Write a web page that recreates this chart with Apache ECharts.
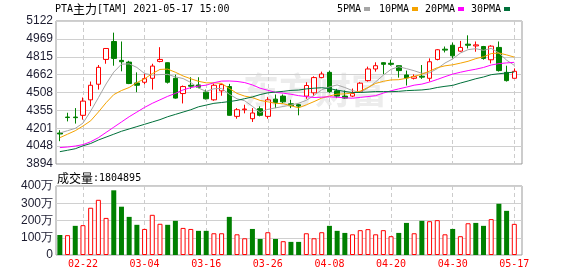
<!DOCTYPE html>
<html><head><meta charset="utf-8">
<script src="https://cdn.jsdelivr.net/npm/echarts@6/dist/echarts.min.js"></script>
<style>html,body{margin:0;padding:0;background:#fff}#c{width:578px;height:276px}</style>
</head><body><div id="c"></div>
<script>
const dates = ['02-10','02-18','02-19','02-22','02-23','02-24','02-25','02-26','03-01','03-02',
'03-03','03-04','03-05','03-08','03-09','03-10','03-11','03-12','03-15','03-16',
'03-17','03-18','03-19','03-22','03-23','03-24','03-25','03-26','03-29','03-30',
'03-31','04-01','04-02','04-06','04-07','04-08','04-09','04-12','04-13','04-14',
'04-15','04-16','04-19','04-20','04-21','04-22','04-23','04-26','04-27','04-28',
'04-29','04-30','05-06','05-07','05-10','05-11','05-12','05-13','05-14','05-17'];
const opens  = [4160,4297,4297,4312,4445,4579,4792,4946,4784,4769,4590,4596,4630,4775,4764,4630,4499,4570,4573,4511,
4445,4522,4559,4303,4360,4283,4369,4303,4451,4477,4411,4403,4477,4505,4636,4681,4522,4477,4477,4514,
4610,4710,4764,4759,4738,4659,4630,4648,4630,4792,4880,4914,4863,4923,4908,4903,4789,4895,4681,4630];
const closes = [4152,4293,4292,4434,4570,4724,4886,4801,4772,4585,4570,4627,4735,4792,4596,4460,4559,4562,4553,4454,
4570,4576,4312,4360,4366,4332,4312,4445,4423,4428,4394,4391,4568,4636,4667,4516,4477,4460,4499,4588,
4710,4738,4750,4750,4696,4633,4644,4640,4772,4875,4872,4823,4895,4914,4917,4801,4906,4696,4610,4690];
const lows   = [4090,4260,4241,4275,4391,4533,4755,4738,4690,4580,4511,4579,4533,4767,4585,4455,4414,4539,4545,4448,
4437,4480,4310,4283,4329,4255,4303,4283,4374,4417,4374,4312,4454,4477,4630,4505,4460,4454,4468,4510,
4602,4687,4665,4738,4636,4568,4620,4625,4602,4784,4852,4801,4858,4886,4858,4790,4758,4688,4602,4630];
const highs  = [4184,4334,4374,4465,4602,4744,4890,5022,4946,4780,4681,4667,4755,4897,4766,4661,4568,4639,4639,4533,
4585,4585,4582,4374,4403,4374,4389,4468,4491,4491,4445,4411,4596,4647,4687,4695,4539,4525,4542,4597,
4730,4767,4767,4789,4740,4696,4664,4744,4801,4880,4903,4937,4951,4999,4946,4908,4914,4946,4738,4715];
const ma5  = [4160,4180,4200,4245,4348,4463,4581,4683,4751,4754,4723,4671,4658,4662,4664,4642,4628,4594,4546,4518,
4540,4543,4493,4454,4437,4389,4336,4363,4376,4388,4400,4416,4441,4483,4531,4556,4573,4551,4524,4508,
4547,4599,4657,4707,4729,4713,4695,4673,4677,4713,4761,4796,4847,4876,4884,4870,4887,4847,4786,4741];
const ma10 = [4120,4150,4180,4220,4265,4340,4420,4490,4525,4551,4593,4626,4670,4706,4709,4682,4650,4626,4604,4591,
4591,4586,4543,4500,4477,4464,4440,4428,4415,4412,4395,4376,4402,4430,4460,4478,4494,4496,4504,4520,
4551,4586,4604,4616,4618,4630,4647,4665,4692,4721,4737,4746,4760,4776,4799,4815,4842,4847,4831,4812];
const ma20 = [4035,4040,4048,4060,4085,4120,4165,4210,4255,4300,4340,4380,4415,4445,4475,4500,4530,4550,4563,4571,
4592,4606,4607,4603,4593,4573,4545,4527,4509,4502,4493,4481,4473,4465,4468,4471,4467,4462,4459,4466,
4473,4481,4503,4523,4539,4554,4571,4580,4598,4620,4644,4666,4682,4696,4708,4723,4744,4756,4762,4767];
const ma30 = [4000,4012,4025,4050,4070,4100,4125,4150,4175,4195,4215,4235,4255,4275,4300,4320,4340,4360,4385,4400,
4415,4422,4430,4440,4455,4470,4490,4505,4512,4518,4526,4529,4539,4545,4549,4542,4528,4517,4508,4508,
4512,4516,4516,4515,4518,4524,4527,4530,4537,4551,4561,4569,4589,4607,4626,4641,4661,4669,4676,4684];
const volumes = [116,115,169,173,274,320,215,375,280,221,175,151,233,181,175,198,157,151,140,140,
126,126,221,120,97,151,93,132,93,80,76,76,126,97,132,169,140,128,120,144,
150,120,144,109,128,186,126,198,196,202,120,151,109,184,186,169,208,297,256,180.4895];
const volUp = [0,1,0,1,1,1,1,0,0,0,0,1,1,1,0,0,1,1,0,0,1,1,0,1,1,0,0,1,0,1,
0,0,1,1,1,0,0,0,1,1,1,1,1,1,0,0,1,0,1,1,1,0,1,1,0,0,1,0,0,1];
const dateTickIdx = [3,11,19,27,35,43,51,59];
const priceTicks = [3894,4047.5,4201,4354.5,4508,4661.5,4815,4968.5,5122];
const priceTickLabels = ['3894','4048','4201','4355','4508','4662','4815','4969','5122'];
const volTickLabels = {0:'0',100:'100万',200:'200万',300:'300万',400:'400万'};
const maNames = ['5PMA','10PMA','20PMA','30PMA'];
const maColors = ['#a6a6a6','#f5a300','#ff00ff','#00703a'];

const mono = '"DejaVu Sans Mono", monospace';
const cjk = '"Noto Sans CJK SC", sans-serif';
const sans = '"Liberation Sans", Arial, sans-serif';
const RED = '#ff0000', GREEN = '#008000';

const candleData = dates.map((d, i) => [i, opens[i], closes[i], lows[i], highs[i]]);
const volData = dates.map((d, i) => ({
  value: [i, volumes[i]],
  itemStyle: volUp[i] ? {color: '#ffffff', borderColor: RED, borderWidth: 1} : {color: GREEN, borderColor: GREEN, borderWidth: 0}
}));
const maSeries = [ma5, ma10, ma20, ma30].map((arr, k) => ({
  name: maNames[k], type: 'line', xAxisIndex: 0, yAxisIndex: 0, z: 3,
  data: arr.map((v, i) => [i, v]), showSymbol: false, symbol: 'none',
  lineStyle: {color: maColors[k], width: 1}, itemStyle: {color: maColors[k]}
}));

function xAxisCfg(gi, showLabel) {
  return {
    type: 'value', gridIndex: gi, min: -0.5, max: 60,
    axisLine: {show: false},
    axisTick: {show: false, customValues: dateTickIdx},
    axisLabel: {show: showLabel, customValues: dateTickIdx, formatter: v => dates[v],
      color: RED, fontFamily: mono, fontSize: 10, margin: 4},
    splitLine: {show: true, lineStyle: {color: '#cccccc', width: 1, type: [4, 3]}}
  };
}

const legendEls = [];
const legendX = [337, 379, 425, 471];
const swatchX = [364, 412, 458, 504];
maNames.forEach((n, k) => {
  legendEls.push({type: 'text', x: legendX[k], y: 9, style: {text: n, font: '10px ' + mono, fill: '#000', verticalAlign: 'middle'}});
  legendEls.push({type: 'rect', shape: {x: swatchX[k], y: 7, width: 6, height: 4}, style: {fill: maColors[k]}});
});

const option = {
  animation: false,
  backgroundColor: '#fff',
  grid: [
    {left: 56, top: 21, width: 466, height: 143, show: true, borderColor: '#999', borderWidth: 1},
    {left: 56, top: 186, width: 466, height: 69, show: true, borderColor: '#999', borderWidth: 1}
  ],
  xAxis: [xAxisCfg(0, false), xAxisCfg(1, true)],
  yAxis: [
    {type: 'value', gridIndex: 0, min: 3894, max: 5122,
      axisLine: {show: false}, axisTick: {show: false, customValues: priceTicks},
      axisLabel: {customValues: priceTicks, formatter: v => priceTickLabels[priceTicks.indexOf(v)],
        color: '#1c1c30', fontFamily: sans, fontSize: 12, margin: 3},
      splitLine: {show: true, lineStyle: {color: '#d0d0d0', width: 1}}},
    {type: 'value', gridIndex: 1, min: 0, max: 400, interval: 100,
      axisLine: {show: false}, axisTick: {show: false},
      axisLabel: {formatter: v => volTickLabels[v], color: '#1c1c30', fontFamily: sans, fontSize: 12, margin: 3},
      splitLine: {show: true, lineStyle: {color: '#d0d0d0', width: 1}}}
  ],
  graphic: {elements: [
    {type: 'text', x: 243, y: 90, z: 0, silent: true,
      style: {text: '东方财富', font: 'bold 36px ' + cjk, fill: '#ececec', verticalAlign: 'middle'}},
    {type: 'text', x: 55, y: 9,
      style: {text: '{a|PTA}{c|主力}{a|[TAM] 2021-05-17 15:00}', verticalAlign: 'middle',
        rich: {a: {font: '10px ' + mono, fill: '#000'}, c: {font: '12px ' + cjk, fill: '#000'}}}},
    {type: 'text', x: 57, y: 178,
      style: {text: '{c|成交量}{a|:1804895}', verticalAlign: 'middle',
        rich: {a: {font: '10px ' + mono, fill: '#000'}, c: {font: '12px ' + cjk, fill: '#000'}}}},
    ...legendEls
  ]},
  series: [
    {type: 'candlestick', xAxisIndex: 0, yAxisIndex: 0, z: 2, barWidth: 5,
      data: candleData,
      itemStyle: {color: '#ffffff', color0: GREEN, borderColor: RED, borderColor0: GREEN, borderWidth: 1}},
    ...maSeries,
    {type: 'bar', xAxisIndex: 1, yAxisIndex: 1, barWidth: 5, data: volData}
  ]
};
const chart = echarts.init(document.getElementById('c'), null, {renderer: 'canvas'});
chart.setOption(option);
</script>
</body></html>
